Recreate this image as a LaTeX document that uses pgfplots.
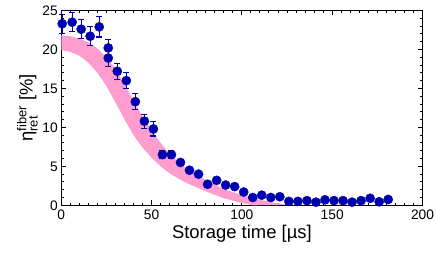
\documentclass[border=0pt]{standalone}
\usepackage{amsmath}
\usepackage{fontspec}
\setmainfont{Liberation Sans}
\usepackage{pgfplots}
\pgfplotsset{compat=1.18}
\definecolor{ptblue}{RGB}{0,0,175}
\definecolor{bandpink}{RGB}{255,158,206}
\begin{document}
\begin{tikzpicture}
\begin{axis}[
  at={(0,0)}, anchor=south west,
  scale only axis, width=361.2bp, height=194.8bp,
  xmin=0, xmax=200, ymin=0, ymax=25,
  clip=false,
  xtick={0,50,100,150,200}, ytick={0,5,10,15,20,25},
  minor x tick num=9, minor y tick num=4,
  tick align=inside, tick pos=both,
  major tick length=5bp, minor tick length=2.8bp,
  axis line style={line width=1.2bp},
  every tick/.style={line width=1bp, black},
  /pgf/number format/assume math mode=true,
  ticklabel style={font=\fontsize{13.8}{16}\selectfont},
  xticklabel style={yshift=-1bp},
  label style={font=\fontsize{18.5}{21}\selectfont},
  xlabel={Storage time [µs]},
  ylabel={$\text{η}^{\text{fiber}}_{\text{ret}}$ [\%]},
  xlabel style={yshift=1bp},
  ylabel style={yshift=-2bp},
]
\addplot[fill=bandpink, draw=none] coordinates {
(0,21.8) (5,21.7) (10,21.4) (15,20.9) (20,20.1) (25,19.0) (30,17.5) (35,15.6)
(40,13.4) (45,11.4) (50,9.6) (55,8.0) (60,6.6) (65,5.5) (70,4.6) (80,3.2)
(90,2.1) (100,1.3) (110,0.7) (120,0.25) (125,0.05)
(106,0.0) (100,0.3) (90,0.9) (80,1.8) (70,2.8) (65,3.4) (60,4.1) (55,5.0)
(50,6.1) (45,7.4) (40,9.0) (35,11.0) (30,13.2) (25,15.3) (20,17.0) (15,18.3)
(10,19.2) (5,19.7) (0,19.9)
} -- cycle;
\addplot[ptblue, only marks, mark=*, mark size=4.6bp,
  mark options={fill=ptblue, draw=ptblue},
  error bars/.cd, y dir=both, y explicit,
  error bar style={line width=1bp, ptblue},
  error mark options={rotate=90, mark size=3bp, line width=1.1bp, ptblue}]
coordinates {
(0.5,23.3) +- (0,1.2)
(6,23.5) +- (0,1.2)
(11,22.6) +- (0,1.2)
(16,21.7) +- (0,1.2)
(21,22.9) +- (0,1.3)
(26,20.2) +- (0,1.1)
(26,18.9) +- (0,1.1)
(31,17.2) +- (0,1.0)
(36,16.0) +- (0,1.0)
(41,13.3) +- (0,1.0)
(46,10.8) +- (0,0.9)
(51,9.8) +- (0,0.9)
(56,6.5) +- (0,0.5)
(61,6.5) +- (0,0.5)
(66,5.5) +- (0,0.4)
(71,4.5) +- (0,0.3)
(76,4.0) +- (0,0.3)
(81,2.7) +- (0,0.3)
(86,3.2) +- (0,0.3)
(91,2.6) +- (0,0.2)
(96,2.4) +- (0,0.2)
(101,1.7) +- (0,0.2)
(106,1.0) +- (0,0.2)
(111,1.3) +- (0,0.2)
(116,1.0) +- (0,0.2)
(121,1.1) +- (0,0.2)
(126,0.5) +- (0,0.1)
(131,0.5) +- (0,0.1)
(136,0.6) +- (0,0.1)
(141,0.4) +- (0,0.1)
(146,0.7) +- (0,0.1)
(151,0.6) +- (0,0.1)
(156,0.6) +- (0,0.1)
(161,0.4) +- (0,0.1)
(166,0.6) +- (0,0.1)
(171,0.9) +- (0,0.1)
(176,0.45) +- (0,0.1)
(181,0.75) +- (0,0.1)
};
\end{axis}
\pgfresetboundingbox
\path (-61.3bp,-49.7bp) rectangle (374.7bp,205.3bp);
\end{tikzpicture}
\end{document}
